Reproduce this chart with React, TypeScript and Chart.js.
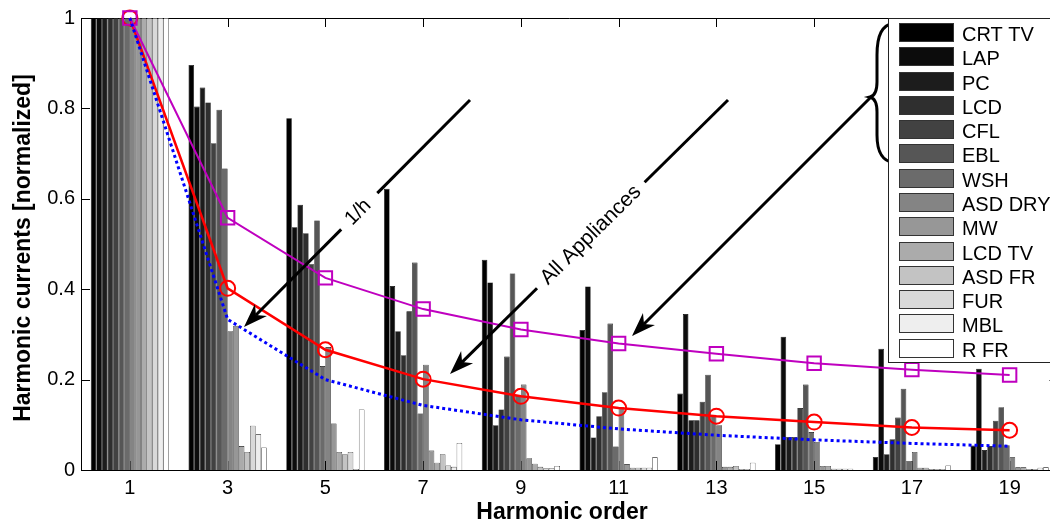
import React, { useEffect, useRef } from 'react';
import { Chart, registerables } from 'chart.js';

Chart.register(...registerables);

const FONT = '"Liberation Sans", Arial, Helvetica, sans-serif';

// Harmonic orders (categories)
const harmonicLabels = ['1', '3', '5', '7', '9', '11', '13', '15', '17', '19'];

// Appliances (bar series) and their gray fills
const applianceNames = ['CRT TV', 'LAP', 'PC', 'LCD', 'CFL', 'EBL', 'WSH', 'ASD DRY', 'MW', 'LCD TV', 'ASD FR', 'FUR', 'MBL', 'R FR'];
const applianceColors = ['#000000', '#0c0c0c', '#1c1c1c', '#2f2f2f', '#424242', '#565656', '#6b6b6b', '#848484', '#979797', '#ababab', '#c3c3c3', '#d9d9d9', '#eeeeee', '#ffffff'];

// Normalized harmonic currents per appliance (h = 1, 3, 5, ..., 19)
const crtTv = [1, 0.896, 0.778, 0.622, 0.465, 0.31, 0.169, 0.057, 0.029, 0.054];
const lap = [1, 0.804, 0.537, 0.407, 0.415, 0.406, 0.345, 0.295, 0.268, 0.224];
const pc = [1, 0.846, 0.587, 0.307, 0.099, 0.072, 0.11, 0.073, 0.035, 0.044];
const lcd = [1, 0.813, 0.524, 0.254, 0.134, 0.119, 0.11, 0.073, 0.068, 0.053];
const cfl = [1, 0.723, 0.455, 0.351, 0.251, 0.172, 0.151, 0.137, 0.116, 0.109];
const ebl = [1, 0.797, 0.552, 0.459, 0.435, 0.324, 0.211, 0.189, 0.18, 0.139];
const wsh = [1, 0.667, 0.23, 0.125, 0.165, 0.052, 0.12, 0.084, 0.02, 0.055];
const asdDry = [1, 0.307, 0.272, 0.233, 0.189, 0.139, 0.099, 0.062, 0.04, 0.028];
const mw = [1, 0.319, 0.103, 0.043, 0.026, 0.013, 0.007, 0.009, 0.005, 0.006];
const lcdTv = [1, 0.053, 0.04, 0.016, 0.014, 0.005, 0.007, 0.009, 0.005, 0.006];
const asdFr = [1, 0.04, 0.035, 0.035, 0.007, 0.005, 0.009, 0.003, 0.002, 0.002];
const fur = [1, 0.098, 0.04, 0.01, 0.004, 0.005, 0.002, 0.003, 0.002, 0.002];
const mbl = [1, 0.079, 0.002, 0.007, 0.004, 0.005, 0.002, 0.003, 0.002, 0.005];
const rFr = [1, 0.05, 0.134, 0.06, 0.009, 0.028, 0.016, 0.003, 0.01, 0.006];

const applianceValues = [crtTv, lap, pc, lcd, cfl, ebl, wsh, asdDry, mw, lcdTv, asdFr, fur, mbl, rFr];

// Curves
const firstSixCurve = [1, 0.558, 0.425, 0.356, 0.311, 0.28, 0.257, 0.236, 0.222, 0.21];
const allAppliancesCurve = [1, 0.402, 0.266, 0.201, 0.163, 0.137, 0.119, 0.106, 0.094, 0.088];
const inverseHCurve = [1, 0.3333, 0.2, 0.1429, 0.1111, 0.0909, 0.0769, 0.0667, 0.0588, 0.0526];

const yTickStep = 0.2;

function drawArrowHead(ctx: CanvasRenderingContext2D, x1: number, y1: number, x2: number, y2: number) {
  const ang = Math.atan2(y2 - y1, x2 - x1);
  const c = Math.cos(ang), s = Math.sin(ang);
  const L = 24, W = 8.5, N = 17;
  ctx.beginPath();
  ctx.moveTo(x1, y1);
  ctx.lineTo(x2 - c * N, y2 - s * N);
  ctx.stroke();
  ctx.beginPath();
  ctx.moveTo(x2, y2);
  ctx.lineTo(x2 - c * L - s * W, y2 - s * L + c * W);
  ctx.lineTo(x2 - c * N, y2 - s * N);
  ctx.lineTo(x2 - c * L + s * W, y2 - s * L - c * W);
  ctx.closePath();
  ctx.fill();
}

function labeledArrow(ctx: CanvasRenderingContext2D, p0: number[], p1: number[], text: string, tText: number, tGapA: number, tGapB: number, fontSize: number) {
  const pt = (t: number) => [p0[0] + (p1[0] - p0[0]) * t, p0[1] + (p1[1] - p0[1]) * t];
  const a = pt(tGapA), b = pt(tGapB), c = pt(tText);
  ctx.beginPath();
  ctx.moveTo(p0[0], p0[1]);
  ctx.lineTo(a[0], a[1]);
  ctx.stroke();
  drawArrowHead(ctx, b[0], b[1], p1[0], p1[1]);
  ctx.save();
  ctx.translate(c[0], c[1]);
  ctx.rotate(Math.atan2(p0[1] - p1[1], p0[0] - p1[0]));
  ctx.font = `${fontSize}px ${FONT}`;
  ctx.textAlign = 'center';
  ctx.textBaseline = 'middle';
  ctx.fillText(text, 0, 0);
  ctx.restore();
}

const framePlugin = {
  id: 'frame',
  beforeDatasetsDraw(chart: any) {
    const { ctx, chartArea } = chart;
    const { left, right, top, bottom } = chartArea;
    const xs = chart.scales.x, ys = chart.scales.y;
    ctx.save();
    ctx.strokeStyle = '#000';
    ctx.lineWidth = 1;
    ctx.beginPath();
    ctx.moveTo(left + 0.5, top + 0.5);
    ctx.lineTo(left + 0.5, bottom + 0.5);
    ctx.lineTo(right, bottom + 0.5);
    ctx.moveTo(left, top + 0.5);
    ctx.lineTo(right, top + 0.5);
    ctx.moveTo(right - 0.5, top);
    ctx.lineTo(right - 0.5, bottom);
    ys.ticks.forEach((t: any) => {
      const py = Math.round(ys.getPixelForValue(t.value)) + 0.5;
      ctx.moveTo(left, py);
      ctx.lineTo(left + 9, py);
      ctx.moveTo(right, py);
      ctx.lineTo(right - 9, py);
    });
    harmonicLabels.forEach((_, i) => {
      const px = Math.round(xs.getPixelForValue(i)) + 0.5;
      ctx.moveTo(px, bottom);
      ctx.lineTo(px, bottom - 9);
      ctx.moveTo(px, top);
      ctx.lineTo(px, top + 9);
    });
    ctx.stroke();
    ctx.restore();
  },
};

const overlayPlugin = {
  id: 'overlay',
  afterDraw(chart: any) {
    const { ctx } = chart;
    ctx.save();
    ctx.fillStyle = '#000';
    ctx.strokeStyle = '#000';
    ctx.lineWidth = 3;
    ctx.lineCap = 'butt';

    // 1/h arrow
    labeledArrow(ctx, [470, 100], [244, 327], '1/h', 0.495, 0.41, 0.57, 20);
    // All Appliances arrow
    labeledArrow(ctx, [728, 100], [450, 374], 'All Appliances', 0.493, 0.3, 0.687, 21);
    // brace arrow
    drawArrowHead(ctx, 871, 97, 632, 336);

    // brace
    ctx.beginPath();
    ctx.moveTo(894, 23);
    ctx.bezierCurveTo(882, 25, 877, 35, 877, 55);
    ctx.lineTo(877, 82);
    ctx.bezierCurveTo(877, 92, 874, 96, 870, 97);
    ctx.bezierCurveTo(874, 98, 877, 102, 877, 112);
    ctx.lineTo(877, 135);
    ctx.bezierCurveTo(877, 152, 882, 161, 894, 163);
    ctx.stroke();

    // legend
    const lx = 888, ly = 18, lb = 362;
    ctx.fillStyle = '#fff';
    ctx.fillRect(lx, ly, 1070 - lx, lb - ly);
    ctx.strokeStyle = '#222';
    ctx.lineWidth = 1;
    ctx.strokeRect(lx + 0.5, ly + 0.5, 1070 - lx, lb - ly);
    ctx.font = `20px ${FONT}`;
    ctx.textAlign = 'left';
    ctx.textBaseline = 'alphabetic';
    applianceNames.forEach((name, i) => {
      const rowTop = 23 + i * 24.28;
      ctx.fillStyle = applianceColors[i];
      ctx.fillRect(899, Math.round(rowTop), 54, 18);
      ctx.strokeStyle = '#333';
      ctx.strokeRect(899.5, Math.round(rowTop) + 0.5, 54, 18);
      ctx.fillStyle = '#000';
      ctx.fillText(name, 962, rowTop + 18);
    });

    // axis titles
    ctx.fillStyle = '#000';
    ctx.font = `bold 23px ${FONT}`;
    ctx.textAlign = 'center';
    ctx.textBaseline = 'middle';
    ctx.fillText('Harmonic order', 562, 513);
    ctx.translate(24, 248);
    ctx.rotate(-Math.PI / 2);
    ctx.fillText('Harmonic currents [normalized]', 0, 0);
    ctx.restore();
  },
};

export default function App() {
  const canvasRef = useRef<HTMLCanvasElement | null>(null);

  useEffect(() => {
    const canvas = canvasRef.current;
    if (!canvas) return;

    const barSets = applianceNames.map((name, i) => ({
      type: 'bar' as const,
      label: name,
      data: applianceValues[i],
      backgroundColor: applianceColors[i],
      borderColor: '#000',
      borderWidth: 0.6,
      categoryPercentage: 0.8,
      barPercentage: 1,
      order: 1,
    }));

    const lineSets: any[] = [
      {
        type: 'line',
        label: 'All Appliances',
        data: allAppliancesCurve,
        borderColor: '#ff0000',
        borderWidth: 2.5,
        pointStyle: 'circle',
        pointRadius: 7.5,
        pointBorderWidth: 2,
        pointBorderColor: '#ff0000',
        pointBackgroundColor: 'rgba(0,0,0,0)',
        tension: 0,
        fill: false,
        clip: false,
        order: 0,
      },
      {
        type: 'line',
        label: 'Group',
        data: firstSixCurve,
        borderColor: '#bf00bf',
        borderWidth: 2,
        pointStyle: 'rect',
        pointRadius: 9.5,
        pointBorderWidth: 2,
        pointBorderColor: '#bf00bf',
        pointBackgroundColor: 'rgba(0,0,0,0)',
        tension: 0,
        fill: false,
        clip: false,
        order: -1,
      },
      {
        type: 'line',
        label: '1/h',
        data: inverseHCurve,
        borderColor: '#0000ff',
        borderWidth: 3,
        borderDash: [3, 3],
        pointRadius: 0,
        tension: 0,
        fill: false,
        clip: false,
        order: -2,
      },
    ];

    const chart = new Chart(canvas, {
      type: 'bar',
      data: {
        labels: harmonicLabels,
        datasets: [...lineSets, ...barSets] as any,
      },
      options: {
        animation: false,
        responsive: false,
        devicePixelRatio: 1,
        layout: { padding: { left: 0, top: 16, right: 9, bottom: 0 } },
        plugins: {
          legend: { display: false },
          tooltip: { enabled: false },
        },
        scales: {
          x: {
            type: 'category',
            offset: true,
            grid: { display: false, drawTicks: false },
            border: { display: false },
            ticks: {
              color: '#000',
              font: { family: FONT, size: 20 },
              padding: 6,
              maxRotation: 0,
              autoSkip: false,
            },
            afterFit: (s: any) => {
              s.height = 57;
            },
          },
          y: {
            min: 0,
            max: 1,
            grid: { display: false, drawTicks: false },
            border: { display: false },
            ticks: {
              stepSize: yTickStep,
              color: '#000',
              font: { family: FONT, size: 20 },
              padding: 6,
              callback: (v: any) => String(Math.round(Number(v) * 10) / 10),
            },
            afterFit: (s: any) => {
              s.width = 81;
            },
          },
        },
      } as any,
      plugins: [framePlugin, overlayPlugin],
    });

    return () => chart.destroy();
  }, []);

  return (
    <div style={{ position: 'fixed', left: 0, top: 0, width: 1050, height: 527, overflow: 'hidden', background: '#fff' }}>
      <canvas ref={canvasRef} width={1070} height={527} style={{ display: 'block' }} />
    </div>
  );
}
